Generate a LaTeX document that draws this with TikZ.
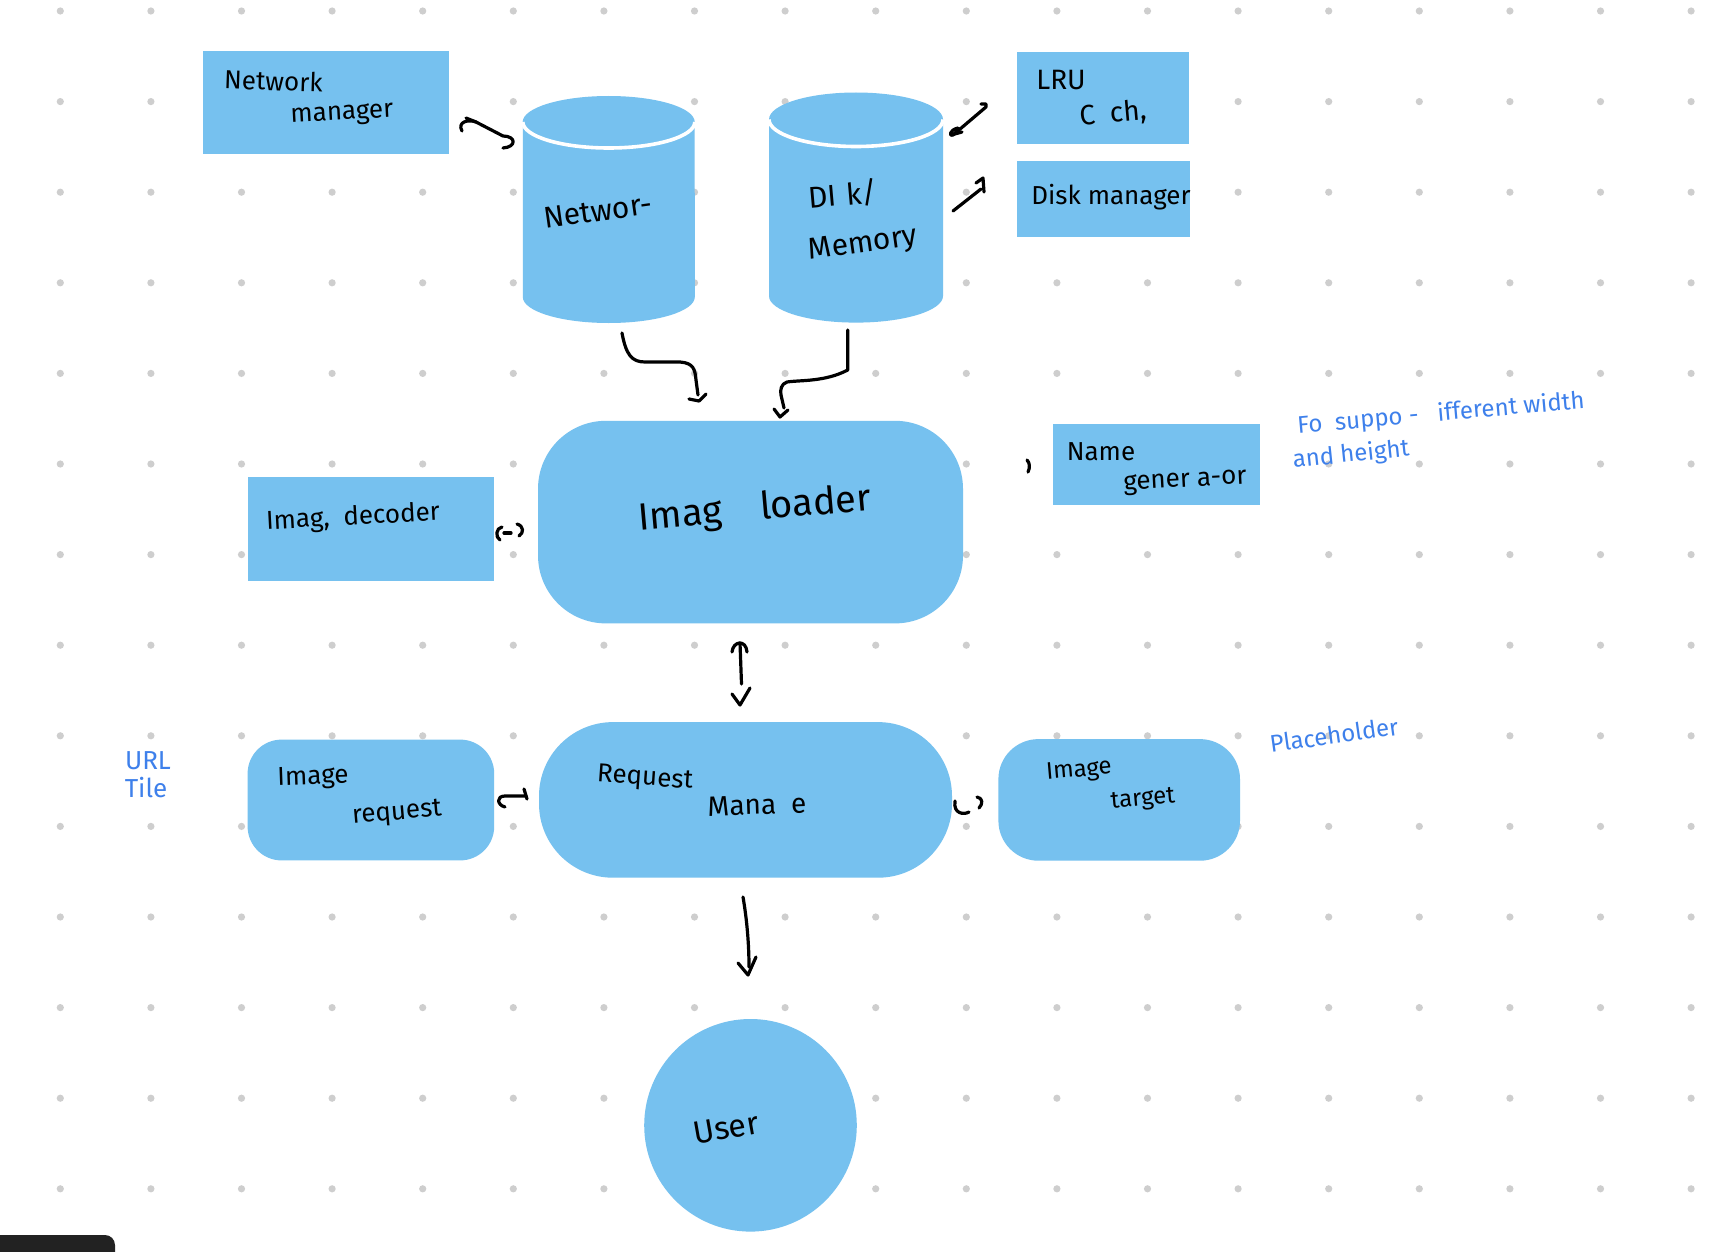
\documentclass[tikz,border=0pt]{standalone}
\usepackage{fontspec}
\setmainfont{Fira Sans}
\usetikzlibrary{arrows.meta}
\definecolor{boxblue}{RGB}{118,193,239}
\definecolor{noteblue}{RGB}{62,128,235}
\definecolor{dotgrey}{RGB}{206,206,206}
\definecolor{tabdark}{RGB}{34,34,34}
\tikzset{
  box/.style={fill=boxblue, draw=none, inner sep=0pt, rectangle},
  rbox/.style={box, rounded corners=#1},
  hand/.style={font=\fontsize{13}{15}\selectfont, text=black, inner sep=0pt},
  bighand/.style={font=\fontsize{19}{22}\selectfont, text=black, inner sep=0pt},
  note/.style={font=\fontsize{12}{14}\selectfont, text=noteblue, inner sep=0pt},
  pen/.style={draw=black, line width=1.6pt, line cap=round, line join=round},
  griddot/.style={fill=dotgrey}
}
\begin{document}
\begin{tikzpicture}[x=0.5pt,y=-0.5pt]
\useasboundingbox (0,0) rectangle (1718,1252);
\fill[white] (0,0) rectangle (1718,1252);
% dot grid
\foreach \i in {0,...,18}{
  \foreach \j in {0,...,13}{
    \fill[griddot] ({60.3+90.6*\i},{11+90.6*\j}) circle[radius=1.8pt];
  }
}
% rectangles
\node[box, minimum width=122.9pt, minimum height=51pt] (nm) at (325.6,102.5) {};
\node[box, minimum width=86pt, minimum height=45.8pt] (lru) at (1103,97.8) {};
\node[box, minimum width=86.5pt, minimum height=37.6pt] (dm) at (1103.5,199) {};
\node[box, minimum width=123.3pt, minimum height=52pt] (dec) at (370.9,528.6) {};
\node[box, minimum width=103.3pt, minimum height=40.4pt] (ng) at (1156.2,464.4) {};
% rounded boxes
\node[rbox=34pt, minimum width=212.5pt, minimum height=101.3pt] (il) at (750.5,522.1) {};
\node[rbox=37pt, minimum width=206.5pt, minimum height=77.8pt] (rm) at (745.5,799.9) {};
\node[rbox=17pt, minimum width=123.3pt, minimum height=60.4pt] (ir) at (370.9,800) {};
\node[rbox=20pt, minimum width=120.8pt, minimum height=60.8pt] (it) at (1119.2,799.9) {};
% user circle
\node[fill=boxblue, circle, inner sep=0pt, minimum size=106.3pt] (user) at (750.5,1125.3) {};
% cylinder: Network
\fill[boxblue] (522.8,122) -- (522.8,297) arc[start angle=180,end angle=360,x radius=43pt,y radius=13pt] -- (694.7,122) -- cycle;
\fill[boxblue] (608.7,122) ellipse[x radius=43pt, y radius=13pt];
\draw[white, line width=1.8pt] (522.8,122) arc[start angle=180,end angle=360,x radius=43pt,y radius=13pt];
% cylinder: Disk / Memory
\fill[boxblue] (769,119.5) -- (769,296) arc[start angle=180,end angle=360,x radius=43.5pt,y radius=13.3pt] -- (943,119.5) -- cycle;
\fill[boxblue] (856,119.5) ellipse[x radius=43.5pt, y radius=13.5pt];
\draw[white, line width=1.8pt] (769,119.5) arc[start angle=180,end angle=360,x radius=43.5pt,y radius=13.5pt];
% bottom-left tab
\fill[tabdark] (0,1252) -- (0,1235) -- (105,1235) arc[start angle=90,end angle=0,radius=5pt] -- (115,1252) -- cycle;

% texts
\node[hand, rotate=-2] (t1) at (273.5,81) {Network};
\node[hand, rotate=3] (t2) at (342,115) {manager};
\node[hand, font=\fontsize{15}{17}\selectfont, rotate=8] (t3) at (598,211) {Networ-};
\node[hand, font=\fontsize{15}{17}\selectfont, rotate=5] (t4) at (843,195) {DI\,\,k/};
\node[hand, font=\fontsize{15}{17}\selectfont, rotate=8] (t5) at (863,245) {Memory};
\node[hand, font=\fontsize{14}{16}\selectfont] (t6) at (1061,80) {LRU};
\node[hand, font=\fontsize{14}{16}\selectfont, rotate=5] (t7) at (1113,114) {C\ \ ch,};
\node[hand] (t8) at (1111,197) {Disk manager};
\node[bighand, rotate=5] (t9) at (755,510) {Imag\quad loader};
\node[hand, rotate=3] (t10) at (353,518) {Imag, \ decoder};
\node[hand] (t11) at (1101,452) {Name};
\node[hand, rotate=3] (t12) at (1185,482) {gener a-or};
\node[note, rotate=5] (t13) at (1441,414) {Fo\ \ suppo -\ \ \ ifferent width};
\node[note, rotate=6] (t14) at (1351,455) {and height};
\node[note, font=\fontsize{13}{15}\selectfont] (t15) at (148,761) {URL};
\node[note, font=\fontsize{13}{15}\selectfont] (t16) at (146,788) {Tile};
\node[hand, rotate=2] (t17) at (313,778) {Image};
\node[hand, rotate=5] (t18) at (397,814) {request};
\node[hand, rotate=-4] (t19) at (645,779) {Request};
\node[hand, font=\fontsize{14}{16}\selectfont, rotate=2] (t20) at (757,805) {Mana\ \ e};
\node[hand, font=\fontsize{12}{14}\selectfont, rotate=5] (t21) at (1079,771) {Image};
\node[hand, font=\fontsize{12}{14}\selectfont, rotate=5] (t22) at (1143,800) {target};
\node[note, rotate=8] (t23) at (1334,735) {Placeholder};
\node[hand, font=\fontsize{16}{18}\selectfont, rotate=10] (t24) at (726,1128) {User};

% hand-drawn connectors (named end coordinates)
\coordinate (a1s) at (462,131);
\coordinate (a1e) at (503,148);
\draw[pen] (a1s) .. controls (457,122) and (468,119) .. (476,122) -- (503,136) .. controls (516,136) and (517,147) .. (a1e);
\draw[pen] (466,118) -- (476,122);

\coordinate (a2s) at (953,135);
\coordinate (a2e) at (986,104);
\draw[pen] (958,128) .. controls (949,130) and (949,137) .. (a2s) -- (986,107) -- (a2e) -- (981,104);
\draw[pen] (951,135) -- (962,132);

\coordinate (a3s) at (953,211);
\coordinate (a3e) at (983,178);
\draw[pen] (a3s) -- (981,189);
\draw[pen] (976,183) -- (a3e) -- (984,192);

\coordinate (a4s) at (622,333);
\coordinate (a4e) at (699,401);
\draw[pen] (a4s) .. controls (626,355) and (632,362) .. (645,362) -- (680,362) .. controls (694,363) and (695,370) .. (696,380) -- (698,395);
\draw[pen] (689,399) -- (a4e) -- (706,394);

\coordinate (a5s) at (847.7,330);
\coordinate (a5e) at (780,417);
\draw[pen] (a5s) -- (847.7,370) .. controls (825,382) and (800,380) .. (787,382) .. controls (781,384) and (780,390) .. (781,395) -- (784,408);
\draw[pen] (774,409) -- (a5e) -- (788,410);

% decoder <-> loader
\coordinate (a6s) at (497,532);
\coordinate (a6e) at (523,530);
\draw[pen] (502,527) .. controls (496,528) and (495,537) .. (500,540);
\draw[pen] (504,533) -- (511,533);
\draw[pen] (517,524) .. controls (524,526) and (524,533) .. (519,536);

% comma near name generator
\coordinate (a7) at (1027,460);
\draw[pen] (a7) .. controls (1030,463) and (1030,468) .. (1028,472);

% image request <-> request manager
\coordinate (a8s) at (505,807);
\coordinate (a8e) at (526,796);
\draw[pen] (a8s) .. controls (497,805) and (496,796) .. (505,796) -- (a8e);
\draw[pen] (524,789) -- (527,799);

% request manager <-> image target
\coordinate (a9s) at (955,801);
\coordinate (a9e) at (979,808);
\draw[pen] (a9s) .. controls (953,814) and (964,815) .. (969,812);
\draw[pen] (977,797) .. controls (983,798) and (983,804) .. (a9e);

% loader <-> request manager
\coordinate (a10s) at (740,643);
\coordinate (a10e) at (740,705);
\draw[pen] (732,652) .. controls (733,641) and (746,639) .. (747,652);
\draw[pen] (a10s) -- (741.5,684);
\draw[pen] (732,694) -- (a10e) -- (750,688);

% request manager -> user
\coordinate (a11s) at (743,897);
\coordinate (a11e) at (748,975);
\draw[pen] (a11s) .. controls (747,920) and (749,945) .. (749,967);
\draw[pen] (738,963) -- (a11e) -- (756,957);
\end{tikzpicture}
\end{document}
